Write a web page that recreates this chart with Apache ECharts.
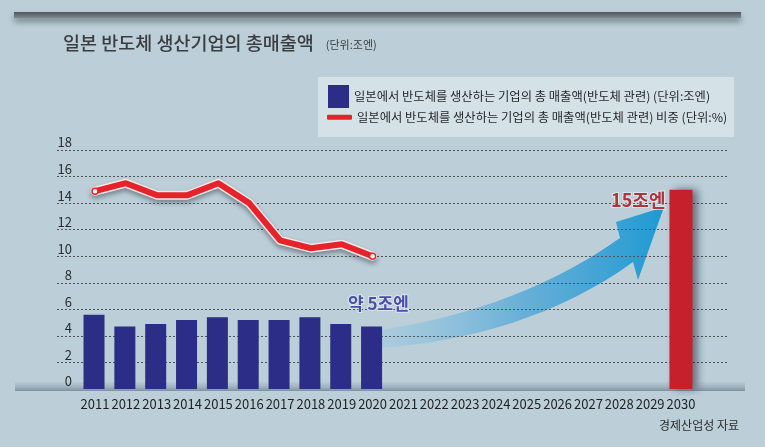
<!DOCTYPE html>
<html>
<head>
<meta charset="utf-8">
<script src="https://cdn.jsdelivr.net/npm/echarts@6/dist/echarts.min.js"></script>
<style>
html,body{margin:0;padding:0;background:#bccfd9;}
#chart{width:765px;height:447px;}
</style>
</head>
<body>
<div id="chart"></div>
<script>
// ---- data ----
const years = ['2011','2012','2013','2014','2015','2016','2017','2018','2019','2020',
               '2021','2022','2023','2024','2025','2026','2027','2028','2029','2030'];
const salesTrillionYen = [5.6, 4.7, 4.9, 5.2, 5.4, 5.2, 5.2, 5.4, 4.9, 4.7]; // 2011-2020
const forecastYear = '2030';
const forecastValue = 15;
const sharePercent = [14.9, 15.5, 14.6, 14.6, 15.5, 14.0, 11.2, 10.6, 10.9, 10.0]; // 2011-2020
const yTicks = [0, 2, 4, 6, 8, 10, 12, 14, 16, 18];

const barName = '일본에서 반도체를 생산하는 기업의 총 매출액(반도체 관련) (단위:조엔)';
const lineName = '일본에서 반도체를 생산하는 기업의 총 매출액(반도체 관련) 비중 (단위:%)';
const KR = "'Noto Sans CJK KR', 'Noto Sans', sans-serif";
const NARROW = "'Liberation Sans Narrow', 'Noto Sans CJK KR', sans-serif";

// decorative growth arrow shape
const ArrowShape = echarts.graphic.extendPath(
  'M378,330 C450,320 540,295 620,238 L616,222 L664,207 L638,280 L633,262 C560,315 470,342 378,348 Z', {});
echarts.graphic.registerShape('growthArrow', ArrowShape);

const chart = echarts.init(document.getElementById('chart'), null, {renderer: 'canvas'});

const gridTop = 150, gridBottom = 58;
const yMin = yTicks[0], yMax = yTicks[yTicks.length - 1], yStep = yTicks[1] - yTicks[0];
const lastIdx = sharePercent.length - 1;

const option = {
  backgroundColor: '#bccfd9',
  animation: false,
  title: {
    left: 58, top: 29,
    text: '{a|일본 반도체 생산기업의 총매출액}  {b|(단위:조엔)}',
    textStyle: {
      fontWeight: 'normal',
      rich: {
        a: {fontFamily: KR, fontSize: 18.5, fontWeight: 500, color: '#3a3d40'},
        b: {fontFamily: KR, fontSize: 11, fontWeight: 'normal', color: '#3a3d40', padding: [3, 0, 0, 2]}
      }
    }
  },
  legend: [
    {
      left: 328, top: 85, padding: 0, orient: 'vertical', selectedMode: false,
      itemWidth: 21, itemHeight: 23,
      data: [{name: barName, icon: 'rect'}],
      textStyle: {fontFamily: KR, fontSize: 12.3, color: '#26282b'}
    },
    {
      left: 327, top: 111, padding: 0, orient: 'vertical', selectedMode: false,
      itemWidth: 25, itemHeight: 5,
      data: [{name: lineName, icon: 'roundRect', itemStyle: {color: '#e4232b', borderWidth: 0}}],
      textStyle: {fontFamily: KR, fontSize: 12.3, color: '#26282b', padding: [0, 0, 4, 0]}
    }
  ],
  graphic: [
    { // top rule
      type: 'rect', z: -10, silent: true,
      shape: {x: 14, y: 12, width: 727, height: 6},
      style: {
        fill: new echarts.graphic.LinearGradient(0, 0, 0, 1, [
          {offset: 0, color: '#50565a'}, {offset: 1, color: '#7d898f'}
        ]),
        shadowColor: 'rgba(40,50,55,0.5)', shadowBlur: 6, shadowOffsetY: 4
      }
    },
    { // legend panel
      type: 'rect', z: -10, silent: true,
      shape: {x: 318, y: 77, width: 416, height: 60},
      style: {fill: 'rgba(236,243,246,0.5)'}
    },
    { // floor band
      type: 'rect', z: -9, silent: true,
      shape: {x: 15, y: 382, width: 730, height: 9},
      style: {
        fill: new echarts.graphic.LinearGradient(0, 0, 0, 1, [
          {offset: 0, color: 'rgba(110,135,150,0.08)'},
          {offset: 0.6, color: 'rgba(80,105,120,0.3)'},
          {offset: 1, color: 'rgba(60,85,100,0.5)'}
        ])
      }
    },
    { // growth arrow
      type: 'growthArrow', z: -5, silent: true,
      style: {
        fill: new echarts.graphic.LinearGradient(0, 0, 1, 0, [
          {offset: 0, color: 'rgba(150,200,225,0.45)'},
          {offset: 0.5, color: 'rgba(90,170,215,0.85)'},
          {offset: 1, color: '#1e9ad2'}
        ])
      }
    },
    {
      type: 'text', z: 10, silent: true,
      left: 347, top: 294,
      style: {
        text: '약 5조엔', fontFamily: KR, fontSize: 17, fontWeight: 'bold',
        fill: '#4a4fa6', stroke: 'rgba(235,240,250,0.7)', lineWidth: 2
      }
    },
    {
      type: 'text', silent: true,
      right: 26, top: 419,
      style: {text: '경제산업성 자료', fontFamily: KR, fontSize: 12, fill: '#2a2c2e'}
    }
  ],
  grid: [
    {left: 57, right: 37, top: gridTop, bottom: gridBottom},
    {left: 79.6, right: 68.6, top: gridTop, bottom: gridBottom}
  ],
  xAxis: [
    {gridIndex: 0, type: 'value', min: 0, max: 1, show: false},
    {
      gridIndex: 1, type: 'category', data: years, boundaryGap: true,
      axisLine: {show: false}, axisTick: {show: false},
      axisLabel: {fontFamily: NARROW, fontSize: 13, color: '#1e2022', margin: 9, interval: 0}
    }
  ],
  yAxis: [
    {
      gridIndex: 0, type: 'value', min: yMin, max: yMax, interval: yStep,
      axisLine: {show: false}, axisTick: {show: false},
      axisLabel: {
        fontFamily: KR, fontSize: 13, color: '#2a2c2e',
        margin: -15, verticalAlign: 'bottom', padding: [0, 0, 1, 0]
      },
      splitLine: {
        show: true,
        lineStyle: {
          type: [2, 2], width: 1,
          color: ['rgba(0,0,0,0)', '#4e5457', '#4e5457', '#4e5457', '#4e5457',
                  '#4e5457', '#4e5457', '#4e5457', '#4e5457', '#4e5457']
        }
      }
    },
    {gridIndex: 1, type: 'value', min: yMin, max: yMax, interval: yStep, show: false, splitLine: {show: false}}
  ],
  series: [
    {
      name: barName, type: 'bar', xAxisIndex: 1, yAxisIndex: 1,
      data: salesTrillionYen, barWidth: 21, barGap: '-100%',
      itemStyle: {color: '#2b2d86'}, z: 3
    },
    {
      name: '2030 전망', type: 'bar', xAxisIndex: 1, yAxisIndex: 1,
      data: [[forecastYear, forecastValue]], barWidth: 23, barGap: '-100%',
      itemStyle: {
        color: '#c5202b',
        shadowColor: 'rgba(20,30,40,0.55)', shadowBlur: 9, shadowOffsetX: 5, shadowOffsetY: 0
      },
      label: {
        show: true, position: [-4, 1], align: 'right', verticalAlign: 'top',
        formatter: () => forecastValue + '조엔',
        fontFamily: KR, fontSize: 18, fontWeight: 'bold', color: '#ad3441',
        textBorderColor: 'rgba(235,240,245,0.7)', textBorderWidth: 2
      },
      z: 3
    },
    { // white outline / shadow under the share line
      name: lineName + ' outline', type: 'line', xAxisIndex: 1, yAxisIndex: 1,
      data: sharePercent, symbol: 'none', silent: true,
      lineStyle: {
        color: '#f7e6e6', width: 9, cap: 'round', join: 'round',
        shadowColor: 'rgba(30,40,50,0.45)', shadowBlur: 5, shadowOffsetY: 3
      },
      z: 4
    },
    {
      name: lineName, type: 'line', xAxisIndex: 1, yAxisIndex: 1,
      data: sharePercent, symbol: 'circle', showSymbol: true,
      symbolSize: (v, p) => (p.dataIndex === 0 || p.dataIndex === lastIdx) ? 6 : 0,
      itemStyle: {color: '#ffffff', borderColor: '#e4232b', borderWidth: 1.5},
      lineStyle: {color: '#e4232b', width: 6, cap: 'round', join: 'round'},
      z: 5
    }
  ]
};
chart.setOption(option);
</script>
</body>
</html>
